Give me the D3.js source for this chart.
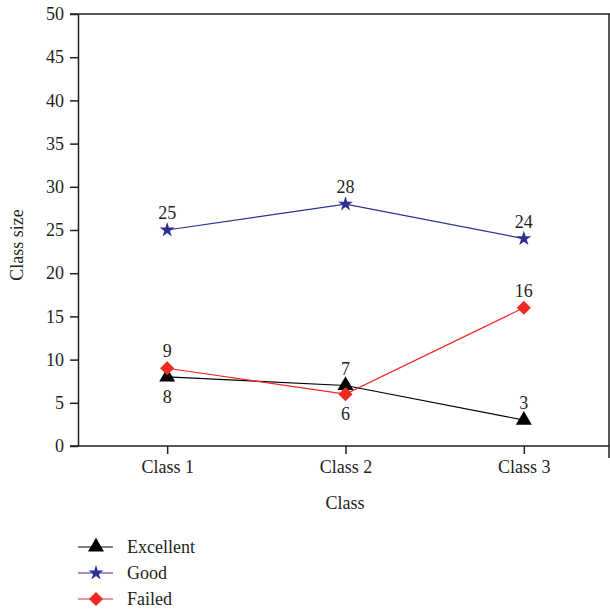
<!DOCTYPE html>
<html>
<head>
<meta charset="utf-8">
<script src="https://cdn.jsdelivr.net/npm/d3@7/dist/d3.min.js"></script>
<style>
body { margin: 0; background: #fff; }
text { font-family: "Liberation Serif", "DejaVu Serif", serif; fill: #231f20; }
</style>
</head>
<body>
<svg id="chart"></svg>
<script>
var width = 610; // svg size
var height = 612;

// data
var classes = ["Class 1", "Class 2", "Class 3"];
var excellent = [8, 7, 3];
var good = [25, 28, 24];
var failed = [9, 6, 16];
var yTicks = [0, 5, 10, 15, 20, 25, 30, 35, 40, 45, 50];

var mLeft = 78, mTop = 14, mBottom = 446, mRight = 609;
var fs = 18;

var svg = d3.select("#chart")
	.attr("width", width)
	.attr("height", height);

var x = d3.scalePoint()
	.domain(classes)
	.range([mLeft, 613])
	.padding(0.5);

var y = d3.scaleLinear()
	.domain([0, 50])
	.range([mBottom, mTop]);

// axes
svg.append("g").attr("transform", "translate(" + mLeft + ",0)")
	.call(d3.axisLeft(y).tickValues(yTicks).tickSize(8).tickPadding(6).tickSizeOuter(0))
	.call(g => g.select(".domain").attr("stroke", "#231f20").attr("stroke-width", 1.5))
	.call(g => g.selectAll(".tick line").attr("stroke", "#231f20").attr("stroke-width", 1.5))
	.call(g => g.selectAll(".tick text").attr("font-size", fs).attr("font-family", "Liberation Serif").attr("fill", "#231f20"));

svg.append("g").attr("transform", "translate(0," + mBottom + ")")
	.call(d3.axisBottom(x).tickSize(8).tickPadding(6).tickSizeOuter(0))
	.call(g => g.select(".domain").remove())
	.call(g => g.selectAll(".tick line").attr("stroke", "#231f20").attr("stroke-width", 1.5))
	.call(g => g.selectAll(".tick text").attr("font-size", fs).attr("font-family", "Liberation Serif").attr("fill", "#231f20"));

// frame lines
svg.append("line").attr("x1", 70).attr("x2", mRight).attr("y1", mBottom).attr("y2", mBottom)
	.attr("stroke", "#231f20").attr("stroke-width", 1.5);
svg.append("line").attr("x1", 70).attr("x2", width).attr("y1", mTop).attr("y2", mTop)
	.attr("stroke", "#231f20").attr("stroke-width", 1.5);
svg.append("line").attr("x1", mRight).attr("x2", mRight).attr("y1", mTop).attr("y2", 458)
	.attr("stroke", "#231f20").attr("stroke-width", 1.5);

// titles
svg.append("text").attr("transform", "translate(23,245)rotate(-90)")
	.attr("text-anchor", "middle").attr("font-size", fs).text("Class size");
svg.append("text").attr("x", 345).attr("y", 509)
	.attr("text-anchor", "middle").attr("font-size", fs).text("Class");

var series = [
	{ name: "Excellent", values: excellent, color: "#000000", symbol: d3.symbolTriangle, size: 110, rot: 0, pos: ["below", "above", "above"] },
	{ name: "Good", values: good, color: "#2e3192", symbol: d3.symbolStar, size: 70, rot: 0, pos: ["above", "above", "above"] },
	{ name: "Failed", values: failed, color: "#ee2a24", symbol: d3.symbolSquare, size: 100, rot: 45, pos: ["above", "below", "above"] }
];

var line = d3.line()
	.x((d, i) => x(classes[i]))
	.y(d => y(d));

series.forEach(function (s) {
	svg.append("path").datum(s.values)
		.attr("d", line)
		.attr("fill", "none")
		.attr("stroke", s.color)
		.attr("stroke-width", 1.2);
});

series.forEach(function (s) {
	svg.selectAll(null).data(s.values).enter().append("path")
		.attr("transform", (d, i) => "translate(" + x(classes[i]) + "," + y(d) + ")rotate(" + s.rot + ")")
		.attr("d", d3.symbol().type(s.symbol).size(s.size))
		.attr("fill", s.color);

	svg.selectAll(null).data(s.values).enter().append("text")
		.attr("x", (d, i) => x(classes[i]))
		.attr("y", (d, i) => s.pos[i] == "above" ? y(d) - 11 : y(d) + 26)
		.attr("text-anchor", "middle")
		.attr("font-size", fs)
		.text(d => d);
});

// legend
var legend = svg.selectAll(".legend").data(series).enter().append("g")
	.attr("transform", (d, i) => "translate(78," + (547 + i * 26) + ")");
legend.append("line").attr("x1", 0).attr("x2", 35)
	.attr("stroke", d => d.color).attr("stroke-width", 1.2);
legend.append("path").attr("transform", d => "translate(18,0)rotate(" + d.rot + ")")
	.attr("d", d => d3.symbol().type(d.symbol).size(d.size)())
	.attr("fill", d => d.color);
legend.append("text").attr("x", 49).attr("y", 6)
	.attr("font-size", fs).text(d => d.name);
</script>
</body>
</html>
